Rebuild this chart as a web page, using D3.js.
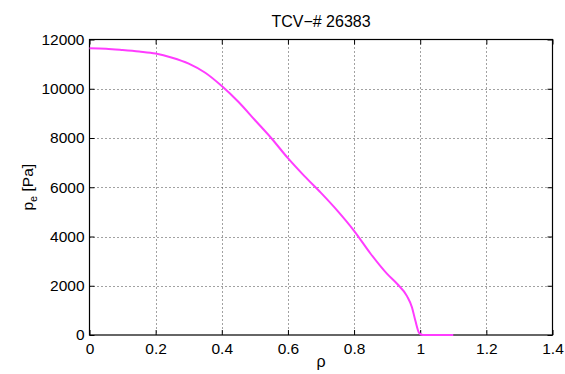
<!DOCTYPE html>
<html>
<head>
<meta charset="utf-8">
<script src="https://cdn.jsdelivr.net/npm/d3@7"></script>
<style>
  html, body { margin: 0; padding: 0; background: #fff; }
  svg { display: block; font-family: "Liberation Sans", Arial, Helvetica, sans-serif; }
</style>
</head>
<body>
<svg id="chart" width="565" height="374"></svg>
<script>
// Electron pressure profile, TCV shot 26383
const rho = [0, 0.05, 0.1, 0.15, 0.2, 0.25, 0.3, 0.35, 0.4, 0.45, 0.5, 0.55, 0.6, 0.65,
             0.7, 0.75, 0.8, 0.85, 0.9, 0.93, 0.96, 0.975, 0.985, 0.997, 1.008, 1.1];
const pe  = [11640, 11620, 11570, 11510, 11430, 11260, 11020, 10650, 10110, 9470, 8730, 7990,
             7180, 6450, 5770, 5040, 4230, 3300, 2480, 2080, 1580, 1130, 600, 80, 0, 0];

const xTicks = [0, 0.2, 0.4, 0.6, 0.8, 1, 1.2, 1.4];
const yTicks = [0, 2000, 4000, 6000, 8000, 10000, 12000];

const titleText = "TCV\u2212# 26383";
const xLabel = "\u03c1";

const svg = d3.select("#chart");
const m = { left: 89.5, right: 552.5, top: 39.5, bottom: 335 };
const W = m.right - m.left, H = m.bottom - m.top;

const x = d3.scaleLinear().domain([0, 1.4]).range([m.left, m.right]);
const y = d3.scaleLinear().domain([0, 12000]).range([m.bottom, m.top]);

// dotted grid
const grid = svg.append("g").attr("stroke", "#444").attr("stroke-width", 1)
  .attr("stroke-dasharray", "1,3");
xTicks.slice(1, -1).forEach(t => {
  grid.append("line").attr("x1", Math.round(x(t)) + 0.5).attr("x2", Math.round(x(t)) + 0.5)
    .attr("y1", m.top).attr("y2", m.bottom);
});
yTicks.slice(1, -1).forEach(t => {
  grid.append("line").attr("y1", Math.round(y(t)) + 0.5).attr("y2", Math.round(y(t)) + 0.5)
    .attr("x1", m.left).attr("x2", m.right);
});

// axes with inward ticks on all four sides
const tl = 5;
const fmtX = d => (d === 0 || d === 1) ? String(d) : d.toFixed(1);
const bottomAx = svg.append("g").attr("transform", `translate(0,${m.bottom})`)
  .call(d3.axisBottom(x).tickValues(xTicks).tickSize(-tl).tickPadding(8).tickFormat(fmtX));
const topAx = svg.append("g").attr("transform", `translate(0,${m.top})`)
  .call(d3.axisTop(x).tickValues(xTicks).tickSize(-tl).tickFormat(""));
const leftAx = svg.append("g").attr("transform", `translate(${m.left},0)`)
  .call(d3.axisLeft(y).tickValues(yTicks).tickSize(-tl).tickPadding(5).tickFormat(d3.format("d")));
const rightAx = svg.append("g").attr("transform", `translate(${m.right},0)`)
  .call(d3.axisRight(y).tickValues(yTicks).tickSize(-tl).tickFormat(""));

[bottomAx, topAx, leftAx, rightAx].forEach(a => {
  a.select(".domain").remove();
  a.selectAll("line").attr("stroke", "#000");
  a.selectAll("text").attr("font-size", 15.5).attr("fill", "#000")
    .attr("font-family", "Liberation Sans, Arial, sans-serif");
});

// frame
svg.append("rect").attr("x", m.left).attr("y", m.top).attr("width", W).attr("height", H)
  .attr("fill", "none").attr("stroke", "#000").attr("stroke-width", 1.2);

// profile curve
const line = d3.line().x((d, i) => x(rho[i])).y(d => y(d)).curve(d3.curveMonotoneX);
svg.append("path").datum(pe).attr("d", line)
  .attr("fill", "none").attr("stroke", "#ff3cff").attr("stroke-width", 2);

// title
svg.append("text").attr("x", (m.left + m.right) / 2).attr("y", 27)
  .attr("text-anchor", "middle").attr("font-size", 16).text(titleText);

// x label
svg.append("text").attr("x", (m.left + m.right) / 2).attr("y", 367)
  .attr("text-anchor", "middle").attr("font-size", 16).text(xLabel);

// y label with subscript
const yl = svg.append("text")
  .attr("transform", `translate(33,${(m.top + m.bottom) / 2}) rotate(-90)`)
  .attr("text-anchor", "middle").attr("font-size", 15.5);
yl.append("tspan").text("p");
yl.append("tspan").attr("font-size", 11).attr("dy", 4).text("e");
yl.append("tspan").attr("dy", -4).text(" [Pa]");
</script>
</body>
</html>
